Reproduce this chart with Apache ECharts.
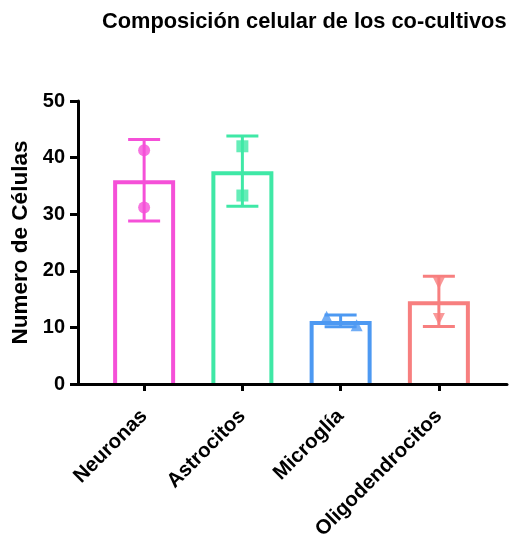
<!DOCTYPE html>
<html>
<head>
<meta charset="utf-8">
<script src="https://cdn.jsdelivr.net/npm/echarts@6/dist/echarts.min.js"></script>
<style>html,body{margin:0;padding:0;background:#fff;}#c{width:521px;height:536px;}</style>
</head>
<body>
<div id="c"></div>
<script>
// ---- data ----
const categories = ['Neuronas', 'Astrocitos', 'Microglía', 'Oligodendrocitos'];
const means = [36.0, 37.6, 11.15, 14.6];
const sdValues = [7.2, 6.2, 1.05, 4.45];
const pointsA = [41.3, 42.0, 11.9, 17.8];
const pointsB = [31.2, 33.3, 10.4, 11.5];
const yTicks = [0, 10, 20, 30, 40, 50];
const titleText = 'Composición celular de los co-cultivos';
const yTitle = 'Numero de Células';

// ---- styling ----
const colors = ['#F550D8', '#3FE8A6', '#4D99F2', '#F77F7F'];
const symbols = ['circle', 'rect', 'triangle', 'triangle'];
const symRot = [0, 0, 0, 180];
const jitterA = [0, 0, -14, 0];
const jitterB = [0, 0, 16, 0];
const FONT = '"Liberation Sans", Arial, sans-serif';

const chart = echarts.init(document.getElementById('c'), null, {renderer: 'canvas'});

const gridTop = 101, gridBottom = 152;

function pts(arr, jit) {
  return arr.map((v, i) => ({
    value: [i, v],
    symbol: symbols[i],
    symbolRotate: symRot[i],
    symbolOffset: [jit[i], 0],
    itemStyle: {color: colors[i]}
  }));
}

const option = {
  animation: false,
  backgroundColor: '#fff',
  graphic: [{
    type: 'text', left: 102, top: 11,
    style: {text: titleText, font: 'bold 21.8px ' + FONT, fill: '#000'}
  }],
  grid: [
    {left: 78, right: 14, top: gridTop, bottom: gridBottom, containLabel: false, outerBoundsMode: 'none'},
    {left: 95, right: 33, top: gridTop, bottom: gridBottom, containLabel: false, outerBoundsMode: 'none'}
  ],
  xAxis: [
    {gridIndex: 0, type: 'value', min: 0, max: 1, z: 10,
     axisLine: {show: true, lineStyle: {color: '#000', width: 3}},
     axisTick: {show: false}, axisLabel: {show: false}, splitLine: {show: false}},
    {gridIndex: 1, type: 'category', data: categories, z: 10,
     axisLine: {show: false},
     axisTick: {show: true, alignWithLabel: true, length: 7, lineStyle: {color: '#000', width: 3}},
     axisLabel: {rotate: 45, margin: 29, fontSize: 20.5, fontWeight: 'bold', fontFamily: FONT, color: '#000'},
     splitLine: {show: false}}
  ],
  yAxis: [
    {gridIndex: 0, type: 'value', min: 0, max: 50, interval: 10, z: 10,
     name: yTitle, nameLocation: 'middle', nameGap: 43,
     nameTextStyle: {fontSize: 22.5, fontWeight: 'bold', fontFamily: FONT, color: '#000'},
     axisLine: {show: true, lineStyle: {color: '#000', width: 3}},
     axisTick: {show: true, length: 8, lineStyle: {color: '#000', width: 3}},
     axisLabel: {margin: 13, fontSize: 20, fontWeight: 'bold', fontFamily: FONT, color: '#000',
       formatter: v => yTicks.includes(v) ? String(v) : ''},
     splitLine: {show: false}},
    {gridIndex: 1, type: 'value', min: 0, max: 50, interval: 10, show: false}
  ],
  series: [
    {
      type: 'custom', xAxisIndex: 1, yAxisIndex: 1, z: 2,
      data: means.map((m, i) => [i, m]),
      renderItem: function (params, api) {
        const i = api.value(0);
        const top = api.coord([i, api.value(1)]);
        const base = api.coord([i, 0]);
        const hw = 29, inset = 2;
        const ty = top[1] + inset;
        return {type: 'polyline', shape: {points: [
          [top[0] - hw, base[1]], [top[0] - hw, ty], [top[0] + hw, ty], [top[0] + hw, base[1]]
        ]}, style: {stroke: colors[i], lineWidth: 4, fill: null, lineJoin: 'miter'}};
      }
    },
    {
      type: 'custom', xAxisIndex: 1, yAxisIndex: 1, z: 3,
      data: means.map((m, i) => [i, m - sdValues[i], m + sdValues[i]]),
      renderItem: function (params, api) {
        const i = api.value(0);
        const lo = api.coord([i, api.value(1)]);
        const hi = api.coord([i, api.value(2)]);
        const hw = 16;
        const st = {stroke: colors[i], lineWidth: 3};
        return {type: 'group', children: [
          {type: 'line', shape: {x1: lo[0], y1: lo[1], x2: hi[0], y2: hi[1]}, style: st},
          {type: 'line', shape: {x1: hi[0] - hw, y1: hi[1], x2: hi[0] + hw, y2: hi[1]}, style: st},
          {type: 'line', shape: {x1: lo[0] - hw, y1: lo[1], x2: lo[0] + hw, y2: lo[1]}, style: st}
        ]};
      }
    },
    {type: 'scatter', xAxisIndex: 1, yAxisIndex: 1, symbolSize: 12, z: 4, data: pts(pointsA, jitterA)},
    {type: 'scatter', xAxisIndex: 1, yAxisIndex: 1, symbolSize: 12, z: 4, data: pts(pointsB, jitterB)}
  ]
};
chart.setOption(option);
</script>
</body>
</html>
